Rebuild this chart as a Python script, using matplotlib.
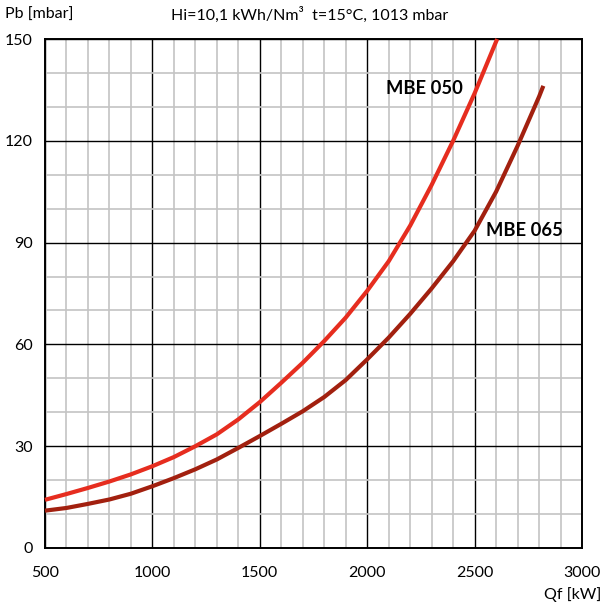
import matplotlib
matplotlib.use("Agg")
import matplotlib.pyplot as plt
from matplotlib.ticker import MultipleLocator

plt.rcParams['font.family'] = ['Lato', 'DejaVu Sans']

# valori (Qf in kW, Pb in mbar)
qf_050 = [500, 600, 700, 800, 900, 1000, 1100, 1200, 1300, 1400, 1500, 1600,
          1700, 1800, 1900, 2000, 2100, 2200, 2300, 2400, 2500, 2605]
pb_050 = [14.2, 15.9, 17.7, 19.6, 21.7, 24.1, 26.8, 30.0, 33.5, 37.9, 43.0, 48.7,
          54.6, 61.0, 67.9, 75.8, 84.5, 95.0, 107.0, 120.0, 134.0, 150.0]

qf_065 = [500, 600, 700, 800, 900, 1000, 1100, 1200, 1300, 1400, 1500, 1600,
          1700, 1800, 1900, 2000, 2100, 2200, 2300, 2400, 2500, 2600, 2700, 2800, 2820]
pb_065 = [11.0, 11.8, 13.0, 14.3, 16.0, 18.2, 20.6, 23.2, 26.1, 29.5, 33.0, 36.6,
          40.3, 44.5, 49.5, 55.6, 62.0, 69.0, 76.5, 84.5, 93.5, 105.0, 118.5, 133.0, 136.2]

x_ticks = [500, 1000, 1500, 2000, 2500, 3000]
y_ticks = [0, 30, 60, 90, 120, 150]

fig = plt.figure(figsize=(6.03, 6.07), dpi=100)
ax = fig.add_axes([0.0746, 0.0972, 0.8906, 0.8385])

ax.set_xlim(500, 3000)
ax.set_ylim(0, 150)

# griglia fine grigia
ax.xaxis.set_minor_locator(MultipleLocator(100))
ax.yaxis.set_minor_locator(MultipleLocator(10))
ax.grid(which='minor', color='#c4c4c4', linewidth=1.2, zorder=0)
ax.grid(which='major', color='black', linewidth=1.0, zorder=1)
ax.set_axisbelow(True)

ax.set_xticks(x_ticks)
ax.set_yticks(y_ticks)
ax.tick_params(which='both', length=0)
ax.tick_params(axis='x', pad=13, labelsize=11.5)
ax.tick_params(axis='y', pad=9, labelsize=11.5)
for s in ax.spines.values():
    s.set_linewidth(1.4)
    s.set_color('black')

ax.plot(qf_050, pb_050, color='#e62d1f', linewidth=3.0, solid_capstyle='butt', zorder=3, clip_on=False)
ax.plot(qf_065, pb_065, color='#a2200f', linewidth=3.0, solid_capstyle='butt', zorder=3, clip_on=False)

ax.text(2265, 135.5, "MBE 050", fontsize=13.2, fontweight='bold', ha='center', va='center')
ax.text(2730, 93.5, "MBE 065", fontsize=13.2, fontweight='bold', ha='center', va='center')

fig.text(5 / 603, 1 - 15 / 607, "Pb [mbar]", fontsize=11.5, ha='left', va='center')
fig.text(310 / 603, 1 - 15 / 607, "Hi=10,1 kWh/Nm\u00b3  t=15°C, 1013 mbar", fontsize=11.5,
         ha='center', va='center')
fig.text(601 / 603, 1 - 595 / 607, "Qf [kW]", fontsize=11.5, ha='right', va='center')

fig.savefig("out.png", dpi=100)
